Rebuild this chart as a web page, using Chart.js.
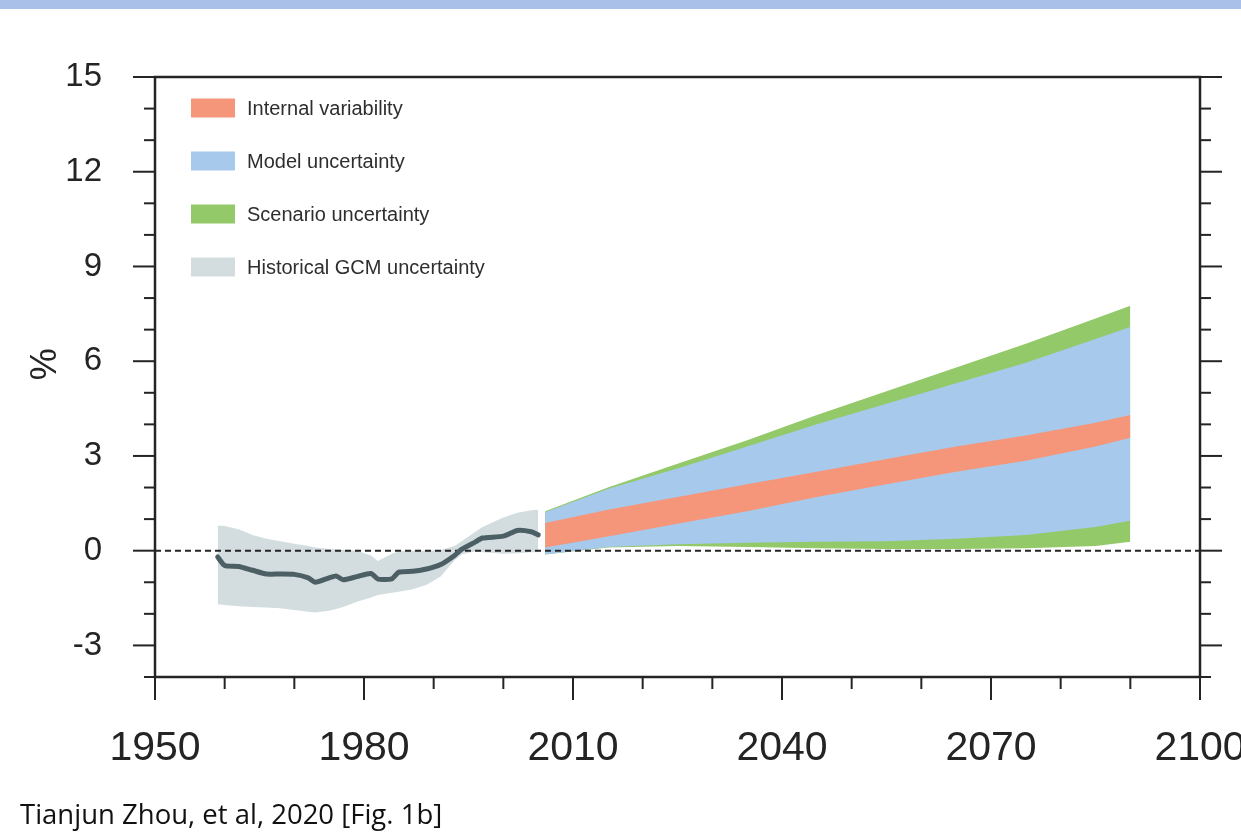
<!DOCTYPE html>
<html>
<head>
<meta charset="utf-8">
<script src="https://cdn.jsdelivr.net/npm/chart.js@4.4.1/dist/chart.umd.min.js"></script>
<style>
  html, body { margin: 0; padding: 0; background: #ffffff; }
  #wrap { position: relative; width: 1241px; height: 839px; overflow: hidden; }
  #topband { position: absolute; left: 0; top: 0; width: 1241px; height: 9px; background: #a9c1e8; }
  #chart { position: absolute; left: 0; top: 0; }
  #cite { position: absolute; left: 20px; top: 796px; font-family: "Open Sans", "Noto Sans", sans-serif;
          font-size: 27.5px; color: #111; white-space: nowrap; line-height: 36px; }
</style>
</head>
<body>
<div id="wrap">
  <div id="topband"></div>
  <canvas id="chart" width="1241" height="839"></canvas>
  <div id="cite">Tianjun Zhou, et al, 2020 [Fig. 1b]</div>
</div>
<script>
// Historical simulation: ensemble mean and GCM spread (%)
const histYears = [1959, 1960, 1962, 1964, 1966, 1968, 1970, 1972, 1973, 1975, 1976, 1977, 1979, 1981,
                   1982, 1984, 1985, 1987, 1989, 1991, 1993, 1994, 1996, 1997, 2000, 2002, 2004, 2005];
const histMean  = [-0.20, -0.47, -0.50, -0.62, -0.74, -0.74, -0.75, -0.86, -1.00, -0.86, -0.80, -0.92, -0.82, -0.72,
                   -0.90, -0.89, -0.68, -0.65, -0.58, -0.44, -0.15, 0.04, 0.28, 0.40, 0.46, 0.64, 0.60, 0.50];
const histHigh  = [0.80, 0.78, 0.68, 0.50, 0.38, 0.30, 0.22, 0.15, 0.10, 0.05, 0.04, 0.03, 0.00, -0.15,
                   -0.33, -0.10, -0.02, 0.00, 0.00, 0.02, 0.15, 0.30, 0.60, 0.75, 1.05, 1.20, 1.28, 1.30];
const histLow   = [-1.70, -1.72, -1.76, -1.78, -1.80, -1.82, -1.88, -1.93, -1.96, -1.90, -1.85, -1.78, -1.62, -1.48,
                   -1.40, -1.33, -1.30, -1.22, -1.08, -0.82, -0.30, -0.12, -0.02, -0.05, -0.10, -0.08, -0.05, -0.05];

// Projection: bounds of each uncertainty source (%)
const futYears  = [2006, 2015, 2025, 2035, 2045, 2055, 2065, 2075, 2085, 2090];
const scenHigh  = [1.25, 2.00, 2.75, 3.50, 4.30, 5.05, 5.80, 6.55, 7.35, 7.76];
const modelHigh = [1.22, 1.95, 2.60, 3.30, 4.00, 4.65, 5.30, 5.95, 6.70, 7.08];
const intHigh   = [0.88, 1.30, 1.70, 2.10, 2.50, 2.90, 3.30, 3.65, 4.05, 4.30];
const intLow    = [0.10, 0.45, 0.85, 1.25, 1.70, 2.10, 2.50, 2.85, 3.30, 3.58];
const modelLow  = [-0.12, 0.12, 0.20, 0.25, 0.28, 0.30, 0.38, 0.50, 0.75, 0.95];
const scenLow   = [-0.12, 0.10, 0.15, 0.12, 0.08, 0.05, 0.05, 0.08, 0.15, 0.28];

// Axes
const xRange = [1950, 2100];
const yRange = [-4, 15];
const xTicks = [1950, 1980, 2010, 2040, 2070, 2100];
const yTicks = [-3, 0, 3, 6, 9, 12, 15];
const yTitle = '%';

// Legend
const legendLabels = ['Internal variability', 'Model uncertainty', 'Scenario uncertainty', 'Historical GCM uncertainty'];
const legendColors = ['#f5967a', '#a6c9ec', '#94c96a', '#d3dde0'];

const pts = (xs, ys) => xs.map((x, i) => ({ x: x, y: ys[i] }));
const edge = (xs, ys, order) => ({ data: pts(xs, ys), borderWidth: 0, pointRadius: 0, fill: false, order: order });
const band = (xs, ys, color, order) => ({ data: pts(xs, ys), borderWidth: 0, pointRadius: 0,
                                           fill: '-1', backgroundColor: color, order: order });

const INK = '#242424';
const FONT = '"Liberation Sans", Arial, Helvetica, sans-serif';

const framePlugin = {
  id: 'frame',
  afterDraw(chart) {
    const { ctx, chartArea: a, scales: { x, y } } = chart;
    ctx.save();
    ctx.strokeStyle = INK;
    ctx.lineCap = 'butt';
    ctx.lineWidth = 2.5;
    ctx.strokeRect(a.left, a.top, a.right - a.left, a.bottom - a.top);
    ctx.lineWidth = 2;
    const seg = (x1, y1, x2, y2) => { ctx.beginPath(); ctx.moveTo(x1, y1); ctx.lineTo(x2, y2); ctx.stroke(); };
    for (let v = yRange[0]; v <= yRange[1]; v++) {
      const py = y.getPixelForValue(v);
      const len = yTicks.includes(v) ? 22 : 11;
      seg(a.left - len, py, a.left, py);
      seg(a.right, py, a.right + len, py);
    }
    for (let yr = xRange[0]; yr <= xRange[1]; yr += 10) {
      const px = x.getPixelForValue(yr);
      const len = xTicks.includes(yr) ? 23 : 12;
      seg(px, a.bottom, px, a.bottom + len);
    }
    // y-axis title
    ctx.fillStyle = INK;
    ctx.font = '36px ' + FONT;
    ctx.textAlign = 'center';
    ctx.textBaseline = 'middle';
    ctx.translate(46, y.getPixelForValue(5.9));
    ctx.rotate(-Math.PI / 2);
    ctx.fillText(yTitle, 0, 0);
    ctx.restore();
  }
};

const legendPlugin = {
  id: 'boxLegend',
  afterDraw(chart) {
    const { ctx, chartArea: a } = chart;
    ctx.save();
    ctx.font = '20px ' + FONT;
    ctx.textAlign = 'left';
    ctx.textBaseline = 'middle';
    legendLabels.forEach((lab, i) => {
      const cy = a.top + 31 + i * 53;
      ctx.fillStyle = legendColors[i];
      ctx.fillRect(a.left + 36, cy - 9.5, 44, 19);
      ctx.fillStyle = '#2e2e2e';
      ctx.fillText(lab, a.left + 92, cy + 1);
    });
    ctx.restore();
  }
};

new Chart(document.getElementById('chart'), {
  type: 'line',
  data: {
    datasets: [
      edge(futYears, scenLow, 6),
      band(futYears, scenHigh, legendColors[2], 6),
      edge(futYears, modelLow, 5),
      band(futYears, modelHigh, legendColors[1], 5),
      edge(futYears, intLow, 4),
      band(futYears, intHigh, legendColors[0], 4),
      edge(histYears, histLow, 3),
      band(histYears, histHigh, legendColors[3], 3),
      { data: [{ x: xRange[0], y: 0 }, { x: xRange[1], y: 0 }], borderColor: INK, borderWidth: 2,
        borderDash: [6, 4], pointRadius: 0, fill: false, order: 2 },
      { data: pts(histYears, histMean), borderColor: '#4b5f64', borderWidth: 5, pointRadius: 0,
        fill: false, tension: 0.2, borderJoinStyle: 'round', borderCapStyle: 'round', order: 1 }
    ]
  },
  options: {
    responsive: false,
    animation: false,
    devicePixelRatio: 1,
    layout: { padding: { left: 0, top: 77, right: 41, bottom: 0 } },
    plugins: { legend: { display: false }, tooltip: { enabled: false } },
    scales: {
      x: {
        type: 'linear', min: xRange[0], max: xRange[1],
        afterFit: s => { s.height = 162; s.paddingLeft = 0; s.paddingRight = 0; },
        afterBuildTicks: s => { s.ticks = xTicks.map(v => ({ value: v })); },
        grid: { display: false, drawTicks: false },
        border: { display: false },
        ticks: { padding: 47, color: INK, font: { family: FONT, size: 41 }, maxRotation: 0, autoSkip: false,
                 callback: v => String(v) }
      },
      y: {
        type: 'linear', min: yRange[0], max: yRange[1],
        afterFit: s => { s.width = 155; s.paddingTop = 0; s.paddingBottom = 0; },
        afterBuildTicks: s => { s.ticks = yTicks.map(v => ({ value: v })); },
        grid: { display: false, drawTicks: false },
        border: { display: false },
        ticks: { padding: 53, color: INK, font: { family: FONT, size: 33 }, autoSkip: false,
                 callback: v => String(v) }
      }
    }
  },
  plugins: [framePlugin, legendPlugin]
});
</script>
</body>
</html>
